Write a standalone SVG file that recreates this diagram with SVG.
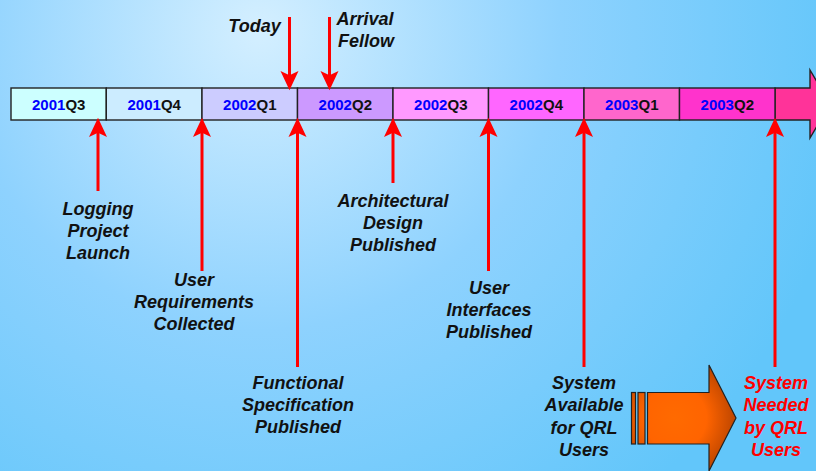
<svg xmlns="http://www.w3.org/2000/svg" width="816" height="471" viewBox="0 0 816 471">
  <defs>
    <radialGradient id="bg" gradientUnits="userSpaceOnUse" cx="260" cy="30" r="600">
      <stop offset="0" stop-color="#D4EFFF"/>
      <stop offset="0.5" stop-color="#8ED2FE"/>
      <stop offset="1" stop-color="#62C6FA"/>
    </radialGradient>
    <radialGradient id="orange" gradientUnits="userSpaceOnUse" cx="675" cy="418" r="70">
      <stop offset="0" stop-color="#FF6A00"/>
      <stop offset="0.45" stop-color="#FF6400"/>
      <stop offset="1" stop-color="#A83C00"/>
    </radialGradient>
    <marker id="head" markerUnits="userSpaceOnUse" orient="auto" refX="0" refY="0"
            markerWidth="30" markerHeight="30" viewBox="-10 -10 25 20" overflow="visible">
      <path d="M11,0 L-5,-7.5 L-1.5,0 L-5,7.5 Z" fill="#FF0000"/>
    </marker>
    <style>
      .cell { stroke: #222; stroke-width: 1.4; }
      .q { font-family: "Liberation Sans", Arial, sans-serif; font-weight: bold; font-size: 15px; text-anchor: middle; fill: #111; }
      .yr { fill: #0000FF; }
      .lbl { font-family: "Liberation Sans", Arial, sans-serif; font-weight: bold; font-style: italic; font-size: 18px; text-anchor: middle; fill: #111; }
      .red { fill: #FF0000; }
      .arr { stroke: #FF0000; stroke-width: 3; fill: none; marker-end: url(#head); }
      .blk { fill: url(#orange); stroke: #222; stroke-width: 1.2; }
    </style>
  </defs>

  <rect x="0" y="0" width="816" height="471" fill="url(#bg)"/>

  <!-- timeline bar -->
  <g id="timeline">
    <path d="M775,88 L810,88 L810,70 L830,104 L810,138 L810,120 L775,120 Z" fill="#FF3399" stroke="#222" stroke-width="1.4"/>
    <rect class="cell" x="11" y="88" width="95.3" height="32" fill="#CCFFFF"/>
    <rect class="cell" x="106.3" y="88" width="95.7" height="32" fill="#CCECFF"/>
    <rect class="cell" x="202" y="88" width="95.5" height="32" fill="#CCCCFF"/>
    <rect class="cell" x="297.5" y="88" width="95.5" height="32" fill="#CC99FF"/>
    <rect class="cell" x="393" y="88" width="95.5" height="32" fill="#FF99FF"/>
    <rect class="cell" x="488.5" y="88" width="95.5" height="32" fill="#FF66FF"/>
    <rect class="cell" x="584" y="88" width="95.5" height="32" fill="#FF66CC"/>
    <rect class="cell" x="679.5" y="88" width="95.5" height="32" fill="#FF33CC"/>
    <text class="q" x="58.7" y="110"><tspan class="yr">2001</tspan>Q3</text>
    <text class="q" x="154.2" y="110"><tspan class="yr">2001</tspan>Q4</text>
    <text class="q" x="249.8" y="110"><tspan class="yr">2002</tspan>Q1</text>
    <text class="q" x="345.3" y="110"><tspan class="yr">2002</tspan>Q2</text>
    <text class="q" x="440.8" y="110"><tspan class="yr">2002</tspan>Q3</text>
    <text class="q" x="536.3" y="110"><tspan class="yr">2002</tspan>Q4</text>
    <text class="q" x="631.8" y="110"><tspan class="yr">2003</tspan>Q1</text>
    <text class="q" x="727.3" y="110"><tspan class="yr">2003</tspan>Q2</text>
  </g>

  <!-- connectors -->
  <g id="connectors">
    <path class="arr" d="M289.5,17 L289.5,77"/>
    <path class="arr" d="M329.5,17 L329.5,77"/>
    <path class="arr" d="M98,191 L98,131"/>
    <path class="arr" d="M202,271 L202,131"/>
    <path class="arr" d="M297.5,367 L297.5,131"/>
    <path class="arr" d="M393,183 L393,131"/>
    <path class="arr" d="M488.5,271 L488.5,131"/>
    <path class="arr" d="M584,367 L584,131"/>
    <path class="arr" d="M775,367 L775,131"/>
  </g>

  <g id="today">
    <text class="lbl" x="254.5" y="32">Today</text>
  </g>
  <g id="arrival">
    <text class="lbl" x="365" y="25">Arrival</text>
    <text class="lbl" x="366" y="46.5">Fellow</text>
  </g>
  <g id="launch">
    <text class="lbl" x="98" y="215">Logging</text>
    <text class="lbl" x="98" y="237">Project</text>
    <text class="lbl" x="98" y="259">Launch</text>
  </g>
  <g id="requirements">
    <text class="lbl" x="194" y="286">User</text>
    <text class="lbl" x="194" y="308">Requirements</text>
    <text class="lbl" x="194" y="330">Collected</text>
  </g>
  <g id="functional">
    <text class="lbl" x="298" y="389">Functional</text>
    <text class="lbl" x="298" y="411">Specification</text>
    <text class="lbl" x="298" y="433">Published</text>
  </g>
  <g id="architecture">
    <text class="lbl" x="393" y="207">Architectural</text>
    <text class="lbl" x="393" y="229">Design</text>
    <text class="lbl" x="393" y="251">Published</text>
  </g>
  <g id="interfaces">
    <text class="lbl" x="489" y="294">User</text>
    <text class="lbl" x="489" y="316">Interfaces</text>
    <text class="lbl" x="489" y="338">Published</text>
  </g>
  <g id="available">
    <text class="lbl" x="584" y="389">System</text>
    <text class="lbl" x="584" y="411">Available</text>
    <text class="lbl" x="584" y="434">for QRL</text>
    <text class="lbl" x="584" y="456">Users</text>
  </g>
  <g id="needed">
    <text class="lbl red" x="776" y="389">System</text>
    <text class="lbl red" x="776" y="411">Needed</text>
    <text class="lbl red" x="776" y="434">by QRL</text>
    <text class="lbl red" x="776" y="456">Users</text>
  </g>

  <!-- striped block arrow -->
  <g id="block-arrow">
    <rect class="blk" x="631.5" y="392.5" width="4" height="51.5"/>
    <rect class="blk" x="638" y="392.5" width="7" height="51.5"/>
    <path class="blk" d="M647.5,392.5 L709,392.5 L709,365 L736,418 L709,471 L709,444 L647.5,444 Z"/>
  </g>
</svg>
